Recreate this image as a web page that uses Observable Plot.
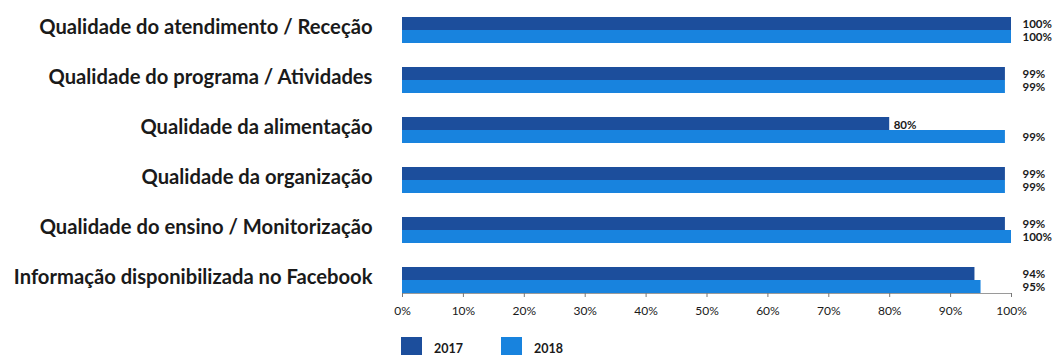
<!DOCTYPE html>
<html>
<head>
<meta charset="utf-8">
<script src="https://cdn.jsdelivr.net/npm/d3@7"></script>
<script src="https://cdn.jsdelivr.net/npm/@observablehq/plot@0.6"></script>
<style>
  html, body { margin: 0; padding: 0; background: #fff; }
  #chart svg { display: block; }
  .legend { position: relative; height: 25px; font-family: Lato, sans-serif; }
  .legend .swatch { position: absolute; top: 7px; width: 21px; height: 20px; }
  .legend .lbl { position: absolute; top: 11px; font-size: 12.5px; font-weight: bold; color: #1a1a1a; }
</style>
</head>
<body>
<div id="chart"></div>
<div class="legend" id="legend"></div>
<script>
// Satisfaction items, two survey years
const categories = [
  "Qualidade do atendimento / Receção",
  "Qualidade do programa / Atividades",
  "Qualidade da alimentação",
  "Qualidade da organização",
  "Qualidade do ensino / Monitorização",
  "Informação disponibilizada no Facebook"
];
const years = ["2017", "2018"];
const values2017 = [100, 99, 80, 99, 99, 94];
const values2018 = [100, 99, 99, 99, 100, 95];
const xTicks = [0, 10, 20, 30, 40, 50, 60, 70, 80, 90, 100];
const colors = ["#1c4e9c", "#1883de"];

const rows = categories.flatMap((c, i) => [
  {category: c, year: years[0], value: values2017[i]},
  {category: c, year: years[1], value: values2018[i]}
]);

// Long bars get their label past the end of the axis; shorter ones right after the bar
const endLabels = rows.filter(d => d.value >= 90);
const inlineLabels = rows.filter(d => d.value < 90);
const pct = d => d + "%";

const chart = Plot.plot({
  width: 1054,
  height: 330,
  marginLeft: 402,
  marginRight: 43,
  marginTop: 15,
  marginBottom: 36,
  style: {fontFamily: "Lato, sans-serif", background: "#fff"},
  x: {domain: [0, 100]},
  fy: {domain: categories, paddingInner: 0.48, paddingOuter: 0},
  y: {domain: years, padding: 0, axis: null},
  color: {domain: years, range: colors},
  marks: [
    Plot.barX(rows, {fy: "category", y: "year", x: "value", fill: "year"}),
    Plot.text(endLabels, {
      fy: "category", y: "year", x: () => 100, text: d => pct(d.value),
      textAnchor: "start", dx: 11, fontSize: 11.5, fontWeight: "bold", fill: "#1a1a1a"
    }),
    Plot.text(inlineLabels, {
      fy: "category", y: "year", x: "value", text: d => pct(d.value),
      textAnchor: "start", dx: 4, dy: 1, fontSize: 11.5, fontWeight: "bold", fill: "#1a1a1a"
    }),
    Plot.frame({anchor: "bottom", facetAnchor: "bottom", stroke: "#9a9a9a"}),
    Plot.axisX({
      anchor: "bottom", ticks: xTicks, tickFormat: pct, tickSize: 4, tickPadding: 9,
      fontSize: 12, label: null, stroke: "#777", color: "#1a1a1a"
    }),
    Plot.axisFy({
      anchor: "left", tickSize: 0, tickPadding: 30, fontSize: 20.2, fontWeight: "bold",
      dy: -3, label: null, color: "#1a1a1a"
    })
  ]
});
document.getElementById("chart").append(chart);

// Legend under the chart
const legend = d3.select("#legend");
const legendX = [401, 501];
years.forEach((y, i) => {
  legend.append("div").attr("class", "swatch")
    .style("left", legendX[i] + "px").style("background", colors[i]);
  legend.append("div").attr("class", "lbl")
    .style("left", (legendX[i] + 33) + "px").text(y);
});
</script>
</body>
</html>
